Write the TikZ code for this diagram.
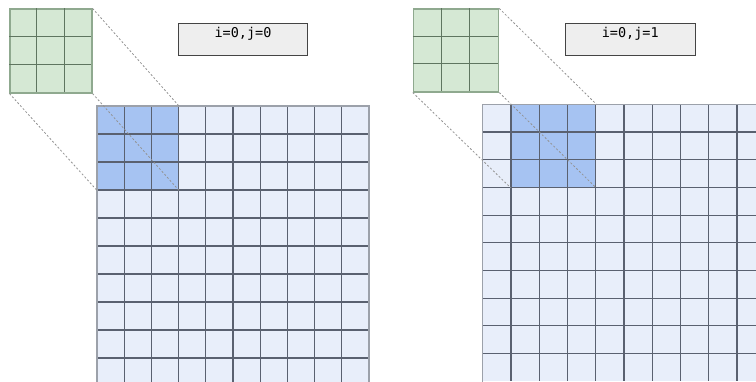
\documentclass[tikz,border=0pt]{standalone}
\usepackage{fontspec}
\setmonofont{DejaVu Sans Mono}
\usepackage{xcolor}
\usepackage{tikz}
\usetikzlibrary{positioning, calc}
\definecolor{kernelgreen}{HTML}{D5E8D4}
\definecolor{kernelline}{HTML}{5F7560}
\definecolor{kerneledge}{HTML}{8FA98F}
\definecolor{gridblue}{HTML}{E8EEFA}
\definecolor{windowblue}{HTML}{A6C3F2}
\definecolor{gridline}{HTML}{5A6170}
\definecolor{gridedge}{HTML}{9CA1AA}
\definecolor{labelgray}{HTML}{EEEEEE}
\definecolor{labelborder}{HTML}{444444}

\begin{document}
\begin{tikzpicture}[x=1pt, y=-1pt,
    kernel/.style={draw=kerneledge, fill=kernelgreen, line width=1.1pt, inner sep=0pt},
    window/.style={fill=windowblue, inner sep=0pt},
    cellline/.style={draw=gridline, line width=1.1pt},
    greenline/.style={draw=kernelline, line width=1.1pt},
    outeredge/.style={draw=gridedge, line width=1.1pt},
    zoomline/.style={draw=gray!85, line width=0.8pt, dash pattern=on 2pt off 2pt},
    labelbox/.style={draw=labelborder, fill=labelgray, line width=1pt,
      minimum width=129.5pt, inner sep=2pt, text height=12pt, text depth=15.7pt,
      font=\ttfamily\fontsize{13.5}{15}\selectfont}]
  \useasboundingbox (0,0) rectangle (756,381);
  \clip (0,0) rectangle (756,381);

  % left panel: i=0, j=0
  \fill[gridblue] (97,106) rectangle ++(272,280);
  \node[window, minimum width=81.6pt, minimum height=84pt] (winA) at (137.8,148) {};
  \foreach \c in {1,...,9}
    \draw[cellline] (97+\c*27.2,106) -- ++(0,280);
  \foreach \r in {1,...,9}
    \draw[cellline] (97,106+\r*28) -- ++(272,0);
  \draw[outeredge] (97,386) |- (369,106) -- (369,386);

  \node[kernel, minimum width=82pt, minimum height=84pt] (kernA) at (51,51) {};
  \foreach \k in {1,2} {
    \draw[greenline] ($(kernA.north west)+(\k*27.33,0)$) -- ++(0,84);
    \draw[greenline] ($(kernA.north west)+(0,\k*28)$) -- ++(82,0);
  }
  \draw[zoomline] (kernA.north east) -- (winA.north east);
  \draw[zoomline] (kernA.south west) -- (winA.south west);
  \draw[zoomline] (kernA.south east) -- (winA.south east);

  \node[labelbox] (labA) at (243,39.2) {i=0,j=0};

  % right panel: i=0, j=1
  \fill[gridblue] (482.7,104.3) rectangle ++(282.5,277);
  \node[window, minimum width=85pt, minimum height=83.4pt] (winB) at (553.5,146) {};
  \foreach \c in {1,...,9}
    \draw[cellline] (482.7+\c*28.25,104.3) -- ++(0,277);
  \foreach \r in {1,...,9}
    \draw[cellline] (482.7,104.3+\r*27.7) -- ++(282.5,0);
  \draw[outeredge] (482.7,386) |- (765.2,104.3);

  \node[kernel, minimum width=85.4pt, minimum height=83pt] (kernB) at (456,50.5) {};
  \foreach \k in {1,2} {
    \draw[greenline] ($(kernB.north west)+(\k*28.47,0)$) -- ++(0,83);
    \draw[greenline] ($(kernB.north west)+(0,\k*27.67)$) -- ++(85.4,0);
  }
  \draw[zoomline] (kernB.north east) -- (winB.north east);
  \draw[zoomline] (kernB.south west) -- (winB.south west);
  \draw[zoomline] (kernB.south east) -- (winB.south east);

  \node[labelbox] (labB) at (630.3,39.2) {i=0,j=1};
\end{tikzpicture}
\end{document}
